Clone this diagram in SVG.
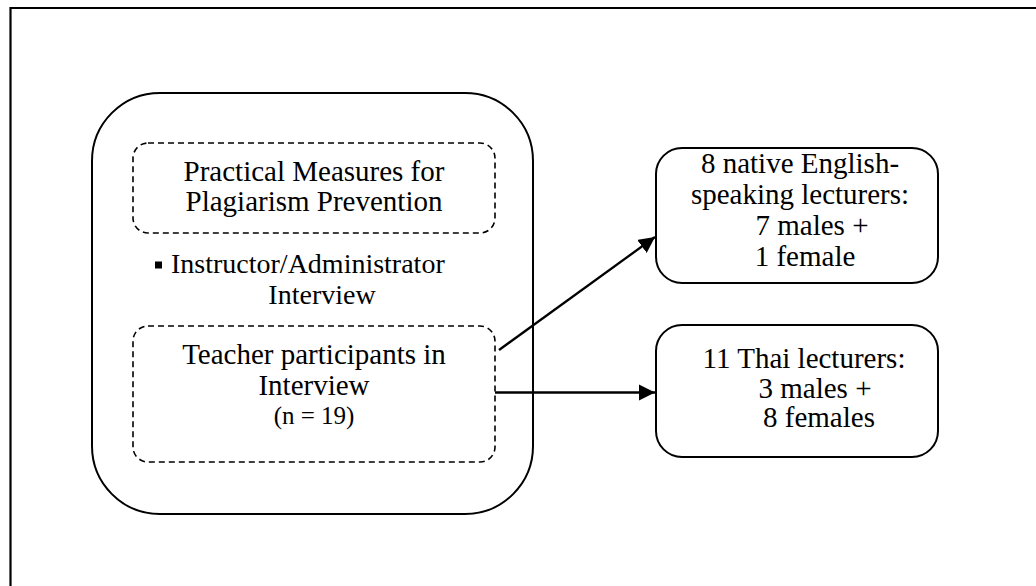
<svg xmlns="http://www.w3.org/2000/svg" width="1036" height="586" viewBox="0 0 1036 586">
  <style>
    .frame { fill: none; stroke: #000; stroke-width: 2.2; }
    .solid { fill: #fff; stroke: #000; stroke-width: 2; }
    .dash { fill: none; stroke: #000; stroke-width: 1.6; stroke-dasharray: 6 4; }
    .link { fill: none; stroke: #000; stroke-width: 2.3; }
    text { font-family: "Liberation Serif", "Times New Roman", serif; font-size: 29px; fill: #000; }
    .c { text-anchor: middle; }
    .mid { font-size: 28px; }
    .small { font-size: 25px; }
  </style>
  <defs>
    <marker id="arrow" viewBox="0 0 10 10" refX="10" refY="5" markerWidth="7" markerHeight="7" markerUnits="strokeWidth" orient="auto">
      <path d="M0,0 L10,5 L0,10 z" fill="#000"/>
    </marker>
  </defs>
  <rect width="1036" height="586" fill="#fff"/>

  <!-- page frame, open on the right and bottom -->
  <path class="frame" d="M10.5,592 V8 H1040"/>

  <!-- study group -->
  <g id="interview-group">
    <rect class="solid" x="92" y="93" width="441" height="421" rx="68" ry="68"/>
  </g>

  <g id="measures">
    <rect class="dash" x="133" y="143" width="362" height="90" rx="15" ry="15"/>
    <text class="c" x="314" y="181">Practical Measures for</text>
    <text class="c" x="314" y="211">Plagiarism Prevention</text>
  </g>

  <g id="instrument">
    <rect x="155" y="261.5" width="7" height="7" fill="#000"/>
    <text class="mid" x="171" y="273">Instructor/Administrator</text>
    <text class="c mid" x="322" y="304">Interview</text>
  </g>

  <g id="participants">
    <rect class="dash" x="133" y="326" width="362" height="136" rx="15" ry="15"/>
    <text class="c" x="314" y="364">Teacher participants in</text>
    <text class="c" x="314" y="395">Interview</text>
    <text class="c small" x="314" y="424">(n = 19)</text>
  </g>

  <g id="native-lecturers">
    <rect class="solid" x="656" y="148" width="282" height="135" rx="26" ry="26"/>
    <text class="c" x="800" y="173">8 native English-</text>
    <text class="c" x="800" y="204">speaking lecturers:</text>
    <text class="c" x="812" y="235">7 males +</text>
    <text class="c" x="805" y="266">1 female</text>
  </g>

  <g id="thai-lecturers">
    <rect class="solid" x="656" y="325" width="282" height="132" rx="26" ry="26"/>
    <text class="c" x="804" y="368">11 Thai lecturers:</text>
    <text class="c" x="815" y="398">3 males +</text>
    <text class="c" x="819" y="427">8 females</text>
  </g>

  <g id="connectors">
    <line class="link" x1="499" y1="350" x2="655" y2="237" marker-end="url(#arrow)"/>
    <line class="link" x1="495" y1="392.5" x2="655" y2="392.5" marker-end="url(#arrow)"/>
  </g>
</svg>
